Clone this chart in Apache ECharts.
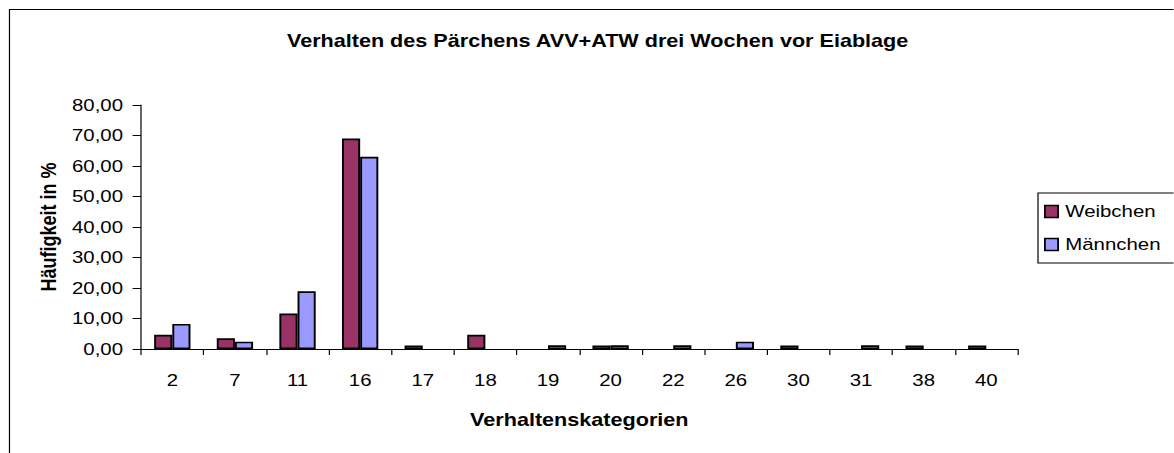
<!DOCTYPE html>
<html lang="de">
<head>
    <meta charset="UTF-8">
    <title>Verhalten des Pärchens</title>
    <style>
        html, body { margin: 0; padding: 0; background: #fff; overflow: hidden; }
        /* the original chart is stretched sideways, so draw narrower and widen it */
        #main {
            width: 978px;
            height: 453px;
            transform: scaleX(1.2);
            transform-origin: 0 0;
        }
    </style>
</head>
<body>
<div id="main"></div>
<script src="https://cdn.jsdelivr.net/npm/echarts@6/dist/echarts.min.js"></script>
<script>
    var categories = ['2', '7', '11', '16', '17', '18', '19', '20', '22', '26', '30', '31', '38', '40'];
    var weibchen = [4.65, 3.49, 11.63, 69.0, 1.16, 4.65, 0, 1.16, 0, 0, 1.16, 0, 1.16, 1.16];
    var maennchen = [8.2, 2.4, 18.9, 63.0, 0, 0, 1.2, 1.2, 1.2, 2.4, 0, 1.2, 0, 0];
    var yTicks = [0, 10, 20, 30, 40, 50, 60, 70, 80];

    var font = 'Liberation Sans, Arial, sans-serif';
    var myChart = echarts.init(document.getElementById('main'), null, {renderer: 'svg'});

    function fmt(v) {
        return v.toFixed(2).replace('.', ',');
    }

    // Excel draws nothing for a zero bar
    function noZero(arr) {
        return arr.map(function (v) { return v === 0 ? '-' : v; });
    }

    var option = {
        backgroundColor: '#fff',
        animation: false,
        title: {
            text: 'Verhalten des Pärchens AVV+ATW drei Wochen vor Eiablage',
            left: 493,
            top: 27,
            textAlign: 'center',
            textStyle: {fontFamily: font, fontSize: 18, fontWeight: 'bold', color: '#000'}
        },
        legend: {
            data: ['Weibchen', 'Männchen'],
            orient: 'vertical',
            left: 865,
            top: 193,
            padding: [10, 14, 10, 5],
            itemGap: 16,
            itemWidth: 11,
            itemHeight: 12,
            borderColor: '#000',
            borderWidth: 1,
            icon: 'rect',
            itemStyle: {borderColor: '#000', borderWidth: 1.5},
            textStyle: {fontFamily: font, fontSize: 17, color: '#000', padding: [0, 0, 0, 1]}
        },
        grid: {
            left: 117.5,
            right: 130,
            top: 105,
            bottom: 104
        },
        xAxis: {
            type: 'category',
            data: categories,
            name: 'Verhaltenskategorien',
            nameLocation: 'middle',
            nameGap: 62,
            nameTextStyle: {fontFamily: font, fontSize: 18, fontWeight: 'bold', color: '#000'},
            axisLine: {lineStyle: {color: '#000', width: 1}},
            axisTick: {show: true, length: 6, lineStyle: {color: '#000'}},
            axisLabel: {fontFamily: font, fontSize: 17, color: '#000', margin: 23},
            splitLine: {show: false}
        },
        yAxis: {
            type: 'value',
            min: 0,
            max: 80,
            interval: 10,
            name: 'Häufigkeit in %',
            nameLocation: 'middle',
            nameGap: 67,
            nameTextStyle: {fontFamily: font, fontSize: 18, fontWeight: 'bold', color: '#000'},
            axisLine: {show: true, lineStyle: {color: '#000', width: 1}},
            axisTick: {show: true, length: 7, lineStyle: {color: '#000'}},
            axisLabel: {fontFamily: font, fontSize: 17, color: '#000', margin: 15,
                formatter: function (v) { return yTicks.indexOf(v) >= 0 ? fmt(v) : ''; }},
            splitLine: {show: false}
        },
        series: [
            {
                name: 'Weibchen',
                type: 'bar',
                data: noZero(weibchen),
                barGap: '0%',
                barCategoryGap: '42%',
                itemStyle: {color: '#993366', borderColor: '#000', borderWidth: 1.6}
            },
            {
                name: 'Männchen',
                type: 'bar',
                data: noZero(maennchen),
                itemStyle: {color: '#9999ff', borderColor: '#000', borderWidth: 1.6}
            }
        ],
        graphic: [
            {
                type: 'rect',
                silent: true,
                z: -1,
                shape: {x: 7.9, y: 9.5, width: 1100, height: 500},
                style: {fill: 'none', stroke: '#000', lineWidth: 1}
            }
        ]
    };
    myChart.setOption(option);
</script>
</body>
</html>
